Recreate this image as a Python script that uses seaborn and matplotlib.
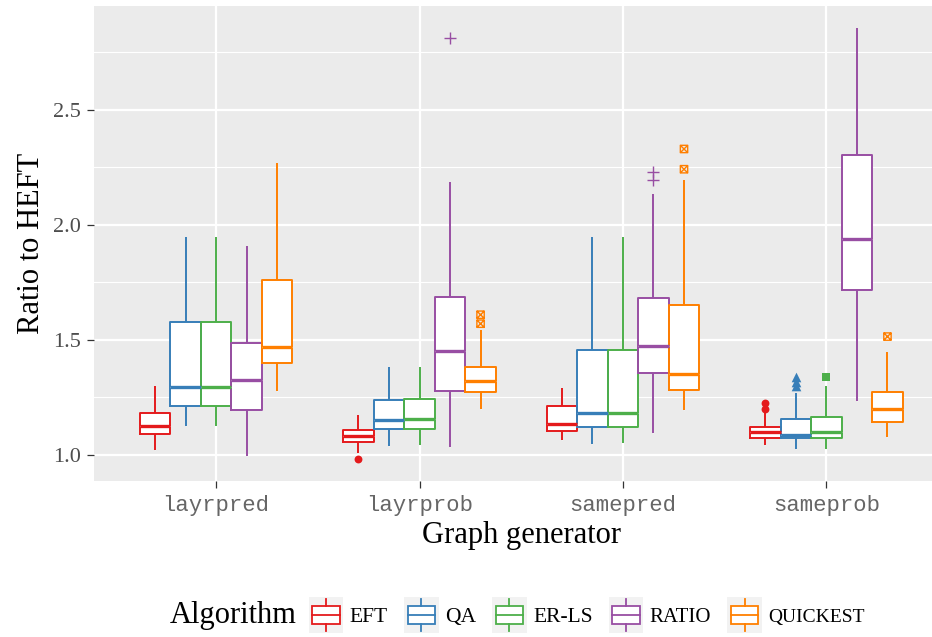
import numpy as np
import pandas as pd
import matplotlib
matplotlib.use("Agg")
import matplotlib.pyplot as plt
import seaborn as sns
from matplotlib.patches import Rectangle, Patch
from matplotlib.lines import Line2D
from matplotlib.path import Path
from matplotlib.legend_handler import HandlerBase
from matplotlib.ticker import FixedLocator

# ---------------- data ----------------
generators = ["layrpred", "layrprob", "samepred", "sameprob"]
algorithms = ["EFT", "QA", "ER-LS", "RATIO", "QUICKEST"]
colors = ["#E41A1C", "#377EB8", "#4DAF4A", "#984EA3", "#FF7F00"]

# five-number summaries per generator: [whisker low, Q1, median, Q3, whisker high]
eft_stats = [[1.022, 1.091, 1.127, 1.181, 1.300],
             [1.007, 1.057, 1.080, 1.106, 1.171],
             [1.065, 1.104, 1.132, 1.212, 1.290],
             [1.042, 1.074, 1.100, 1.119, 1.181]]
qa_stats = [[1.127, 1.210, 1.294, 1.578, 1.945],
            [1.039, 1.112, 1.152, 1.238, 1.381],
            [1.048, 1.122, 1.181, 1.457, 1.949],
            [1.025, 1.071, 1.086, 1.155, 1.268]]
erls_stats = [[1.127, 1.214, 1.294, 1.578, 1.945],
              [1.043, 1.112, 1.155, 1.242, 1.381],
              [1.051, 1.122, 1.181, 1.457, 1.949],
              [1.025, 1.071, 1.101, 1.162, 1.297]]
ratio_stats = [[0.996, 1.194, 1.323, 1.486, 1.906],
               [1.032, 1.278, 1.452, 1.684, 2.186],
               [1.094, 1.357, 1.474, 1.681, 2.135],
               [1.232, 1.717, 1.939, 2.306, 2.857]]
quickest_stats = [[1.278, 1.401, 1.468, 1.758, 2.268],
                  [1.199, 1.275, 1.322, 1.383, 1.543],
                  [1.196, 1.283, 1.351, 1.652, 2.196],
                  [1.077, 1.142, 1.197, 1.273, 1.449]]

# outliers: lists per generator
eft_out = [[], [0.981], [], [1.225, 1.199]]
qa_out = [[], [], [], [1.337, 1.315, 1.297]]
erls_out = [[], [], [], [1.338]]
ratio_out = [[], [2.812], [2.232, 2.196], []]
quickest_out = [[], [1.609, 1.570], [2.330, 2.242], [1.514]]

y_ticks = [1.0, 1.5, 2.0, 2.5]
y_tick_labels = ["1.0", "1.5", "2.0", "2.5"]
y_minor = [1.25, 1.75, 2.25, 2.75]

all_stats = [eft_stats, qa_stats, erls_stats, ratio_stats, quickest_stats]
all_out = [eft_out, qa_out, erls_out, ratio_out, quickest_out]

rows = []
for alg, st in zip(algorithms, all_stats):
    for gen, s in zip(generators, st):
        for v in s:
            rows.append({"gen": gen, "alg": alg, "val": v})
df = pd.DataFrame(rows)

out_rows = []
for ai, (alg, outs) in enumerate(zip(algorithms, all_out)):
    for gi, (gen, o) in enumerate(zip(generators, outs)):
        for v in o:
            out_rows.append({"gen": gen, "alg": alg, "val": v,
                             "xpos": gi + (ai - 2) * 0.15})
dfo = pd.DataFrame(out_rows)

# ---------------- style ----------------
SERIF = "Liberation Serif"
MONO = "Liberation Mono"
plt.rcParams["font.family"] = SERIF

fig = plt.figure(figsize=(9.32, 6.37), dpi=100)
ax = fig.add_axes([94 / 932, 1 - 480.7 / 637, (948.5 - 94) / 932, (480.7 - 6) / 637])
ax.set_facecolor("#EBEBEB")
for sp in ax.spines.values():
    sp.set_visible(False)

pal = dict(zip(algorithms, colors))
white_pal = {a: "white" for a in algorithms}

# white fill for the boxes
sns.boxplot(data=df, x="gen", y="val", hue="alg", order=generators, hue_order=algorithms,
            palette=white_pal, width=0.75, gap=0, whis=(0, 100), showcaps=False,
            fill=True, linecolor="white", linewidth=0.5, legend=False, ax=ax)
# coloured outlines
sns.boxplot(data=df, x="gen", y="val", hue="alg", order=generators, hue_order=algorithms,
            palette=pal, width=0.75, gap=0, whis=(0, 100), showcaps=False,
            fill=False, linewidth=1.4, medianprops={"linewidth": 2.4},
            legend=False, ax=ax)

# outliers
boxcross = Path([(-1, -1), (1, -1), (1, 1), (-1, 1), (-1, -1),
                 (-1, -1), (1, 1), (-1, 1), (1, -1)],
                [Path.MOVETO, Path.LINETO, Path.LINETO, Path.LINETO, Path.CLOSEPOLY,
                 Path.MOVETO, Path.LINETO, Path.MOVETO, Path.LINETO])
marker_spec = {
    "EFT": dict(marker="o", s=32, linewidth=0),
    "QA": dict(marker="^", s=48, linewidth=0),
    "ER-LS": dict(marker="s", s=30, linewidth=0),
    "RATIO": dict(marker="+", s=70, linewidth=1.0),
    "QUICKEST": dict(marker=boxcross, s=28, linewidth=1.0, facecolor="none"),
}
for alg in algorithms:
    sub = dfo[dfo["alg"] == alg]
    if len(sub) == 0:
        continue
    kw = dict(marker_spec[alg])
    if alg == "QUICKEST":
        kw["edgecolor"] = pal[alg]
    sns.scatterplot(data=sub, x="xpos", y="val", color=pal[alg], ax=ax,
                    legend=False, zorder=5, **kw)

ax.set_xlim(-0.6, 3.6)
ax.set_ylim(0.887, 2.952)
ax.set_yticks(y_ticks)
ax.set_yticklabels(y_tick_labels)
ax.yaxis.set_minor_locator(FixedLocator(y_minor))
ax.set_xticks(range(len(generators)))
ax.set_xticklabels(generators)

ax.set_axisbelow(True)
ax.grid(True, which="major", color="white", linewidth=1.6)
ax.grid(True, which="minor", axis="y", color="white", linewidth=0.8)
ax.tick_params(axis="both", which="major", length=5, width=0.9, color="#333333",
               labelcolor="#4D4D4D")
ax.tick_params(axis="y", which="major", pad=4.5, labelsize=16)
ax.tick_params(axis="x", which="major", pad=5, labelsize=16)
ax.tick_params(which="minor", length=0)
for lab in ax.get_xticklabels():
    lab.set_family(MONO)
    lab.set_color("#666666")
for lab in ax.get_yticklabels():
    lab.set_family(SERIF)

ax.set_xlabel("Graph generator", fontsize=22, color="black", labelpad=4)
ax.set_ylabel("Ratio to HEFT", fontsize=22, color="black", labelpad=5)


# ---------------- legend ----------------
class BoxKeyHandler(HandlerBase):
    def create_artists(self, legend, orig_handle, xdescent, ydescent, width, height,
                       fontsize, trans):
        c = orig_handle.get_edgecolor()
        x0, y0 = -xdescent, -ydescent
        bg = Rectangle((x0, y0), width, height, facecolor="#F2F2F2", edgecolor="none",
                       transform=trans)
        bx = Rectangle((x0 + 0.1 * width, y0 + 0.25 * height), 0.8 * width,
                       0.5 * height, facecolor="white", edgecolor=c, linewidth=1.3,
                       transform=trans)
        cx = x0 + width / 2
        med = Line2D([x0 + 0.1 * width, x0 + 0.9 * width], [y0 + height / 2] * 2,
                     color=c, linewidth=1.3, transform=trans)
        w1 = Line2D([cx, cx], [y0 + 0.05 * height, y0 + 0.25 * height], color=c,
                    linewidth=1.3, transform=trans)
        w2 = Line2D([cx, cx], [y0 + 0.75 * height, y0 + 0.95 * height], color=c,
                    linewidth=1.3, transform=trans)
        return [bg, bx, med, w1, w2]


handles = [Patch(edgecolor=c, facecolor="white") for c in colors]
leg_y = 1 - 615 / 637
fig.text(170 / 932, leg_y, "Algorithm", ha="left", va="center", fontsize=22,
         color="black")
leg = fig.legend(handles, algorithms, handler_map={Patch: BoxKeyHandler()},
                 loc="center left", bbox_to_anchor=(309 / 932, leg_y), ncol=5,
                 frameon=False, fontsize=15.5, handlelength=1.6, handleheight=2.2,
                 handletextpad=0.3, columnspacing=0.75, borderpad=0, borderaxespad=0)
# small-caps look: the capitalised names are set a little smaller
leg.get_texts()[3].set_fontsize(15)
leg.get_texts()[4].set_fontsize(14)

fig.savefig("out.png", dpi=100)
